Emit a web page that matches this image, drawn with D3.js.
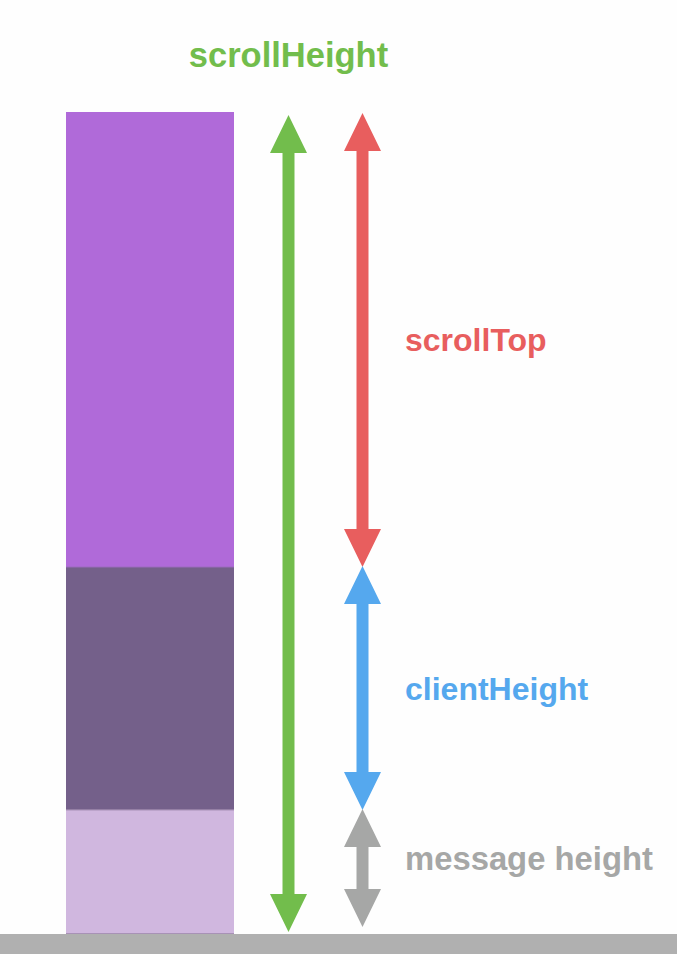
<!DOCTYPE html>
<html>
<head>
<meta charset="utf-8">
<script src="https://cdn.jsdelivr.net/npm/d3@7"></script>
<style>
  html, body { margin: 0; padding: 0; background: #fefefe; }
  svg { display: block; }
  text { font-family: "Liberation Sans", Arial, Helvetica, sans-serif; font-weight: bold; }
</style>
</head>
<body>
<div id="graph"></div>
<script>
// parts of the scroll container, top to bottom
const parts = ["scrollTop", "clientHeight", "message height"];
const partHeights = [455, 243, 124];
const totalLabel = "scrollHeight";

// canvas
const width = 677;
const height = 954;
const colTop = 112;
const colBottom = 934;

const fills = ["#b06ad9", "#74608a", "#d0b7df"];
const arrowColors = ["#e85e5e", "#55a8ee", "#a6a7a6"];
const green = "#72bd4c";

const svg = d3.select("#graph").append("svg")
  .attr("width", width)
  .attr("height", height);

// cumulative offsets for each part
const starts = [];
let acc = 0;
partHeights.forEach(h => { starts.push(acc); acc += h; });
const total = acc;

const y = d3.scaleLinear()
  .domain([0, total])
  .range([colTop, colBottom]);

// column blocks
svg.selectAll(".block")
  .data(parts)
  .enter().append("rect")
  .attr("class", "block")
  .attr("x", 66)
  .attr("width", 168)
  .attr("y", (d, i) => y(starts[i]))
  .attr("height", (d, i) => y(starts[i] + partHeights[i]) - y(starts[i]))
  .attr("fill", (d, i) => fills[i]);

// faint seams between blocks
svg.selectAll(".seam")
  .data(starts.slice(1).concat([total]))
  .enter().append("rect")
  .attr("x", 66)
  .attr("width", 168)
  .attr("y", d => y(d) - 1)
  .attr("height", 1.5)
  .attr("fill", (d, i) => i === 0 ? "#a46bc8" : "#9d88ab")
  .attr("opacity", 0.8);

// bottom gray bar
svg.append("rect")
  .attr("x", 0)
  .attr("y", colBottom)
  .attr("width", width)
  .attr("height", height - colBottom)
  .attr("fill", "#b0b0b0");

// double headed arrow outline
function arrow(cx, y0, y1) {
  const hw = 18.5, hl = 38, sw = 6;
  const p = d3.path();
  p.moveTo(cx, y0);
  p.lineTo(cx + hw, y0 + hl);
  p.lineTo(cx + sw, y0 + hl);
  p.lineTo(cx + sw, y1 - hl);
  p.lineTo(cx + hw, y1 - hl);
  p.lineTo(cx, y1);
  p.lineTo(cx - hw, y1 - hl);
  p.lineTo(cx - sw, y1 - hl);
  p.lineTo(cx - sw, y0 + hl);
  p.lineTo(cx - hw, y0 + hl);
  p.closePath();
  return p.toString();
}

const greenX = 288.5;
const partX = 362.5;

// total arrow
svg.append("path")
  .attr("d", arrow(greenX, y(0) + 3, y(total) - 2))
  .attr("fill", green);

svg.append("text")
  .attr("x", greenX)
  .attr("y", 67)
  .attr("text-anchor", "middle")
  .attr("font-size", 34.5)
  .attr("fill", green)
  .text(totalLabel);

// part arrows
svg.selectAll(".partArrow")
  .data(parts)
  .enter().append("path")
  .attr("class", "partArrow")
  .attr("d", (d, i) => {
    const y0 = y(starts[i]) + (i === 0 ? 1 : -1);
    const y1 = y(starts[i] + partHeights[i]) - (i === parts.length - 1 ? 7 : 0);
    return arrow(partX, y0, y1);
  })
  .attr("fill", (d, i) => arrowColors[i]);

// part labels beside each arrow (last one sits a little high)
svg.selectAll(".partLabel")
  .data(parts)
  .enter().append("text")
  .attr("class", "partLabel")
  .attr("x", 405)
  .attr("y", (d, i) => (y(starts[i]) + y(starts[i] + partHeights[i])) / 2 + 11 - (i === parts.length - 1 ? 13 : 0))
  .attr("font-size", (d, i) => i === parts.length - 1 ? 32.8 : 32)
  .attr("fill", (d, i) => arrowColors[i])
  .text(d => d);
</script>
</body>
</html>
